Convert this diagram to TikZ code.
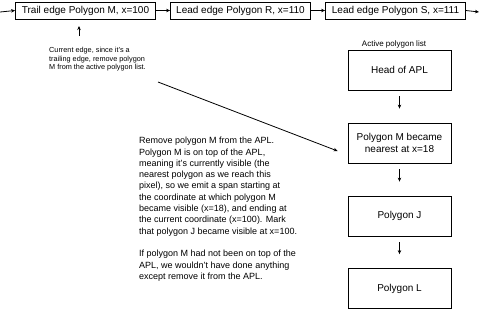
\documentclass[tikz,border=0pt]{standalone}
\usepackage{fontspec}
\setmainfont{Liberation Sans}
\usepackage{tikz}
\usetikzlibrary{positioning,arrows.meta}
\tikzset{
  edgebox/.style={draw, line width=0.8pt, font=\fontsize{10}{12}\selectfont,
                  minimum width=140pt, minimum height=17pt, inner sep=1pt},
  aplbox/.style={draw, line width=0.8pt, font=\fontsize{10}{12}\selectfont, align=center,
                 minimum width=103pt, minimum height=40pt},
  arr/.style={-{Stealth[length=4pt, width=3.5pt]}, line width=0.8pt},
  note/.style={align=left, anchor=north west, inner sep=0pt},
}

\begin{document}
\begin{tikzpicture}[x=1pt, y=-1pt]
  \useasboundingbox (0,0) rectangle (480,309);

  % edge list along the scan line
  \node[edgebox] (trail) at (85.5,10.5) {Trail edge Polygon M, x=100};
  \node[edgebox] (leadr) at (240.5,10.5) {Lead edge Polygon R, x=110};
  \node[edgebox] (leads) at (395.5,10.5) {Lead edge Polygon S, x=111};
  \coordinate (in) at (0,12);
  \coordinate (out) at (479,12);
  \draw[arr] (in) -- (trail.west);
  \draw[arr] (trail.east) -- (leadr.west);
  \draw[arr] (leadr.east) -- (leads.west);
  \draw[arr] (leads.east) -- (out);

  % current edge marker
  \coordinate (cur0) at (79,36);
  \coordinate (cur1) at (79,26);
  \draw[arr] (cur0) -- (cur1);
  \node[note, font=\fontsize{7.3}{8.7}\selectfont] (curtxt) at (49,47)
    {Current edge, since it's a\\trailing edge, remove polygon\\M from the active polygon list.};

  % active polygon list
  \node[font=\fontsize{8}{9}\selectfont] (apltitle) at (394,44) {Active polygon list};
  \node[aplbox] (head) at (399.5,70) {Head of APL};
  \node[aplbox] (polym) at (399.5,143) {Polygon M became\\nearest at x=18};
  \node[aplbox] (polyj) at (399.5,216) {Polygon J};
  \node[aplbox] (polyl) at (399.5,288.5) {Polygon L};
  \foreach \a/\b in {head/polym, polym/polyj, polyj/polyl}
    \draw[arr, shorten <=6pt, shorten >=14pt] (\a.south) -- (\b.north);

  % what happens to polygon M
  \coordinate (from) at (158,82);
  \draw[arr] (from) -- ([xshift=-10pt, yshift=-8pt]polym.west);
  \node[note, font=\fontsize{9}{11.3}\selectfont] (expl) at (139,137)
    {Remove polygon M from the APL.\\
     Polygon M is on top of the APL,\\
     meaning it's currently visible (the\\
     nearest polygon as we reach this\\
     pixel), so we emit a span starting at\\
     the coordinate at which polygon M\\
     became visible (x=18), and ending at\\
     the current coordinate (x=100). Mark\\
     that polygon J became visible at x=100.\\[11.3pt]
     If polygon M had not been on top of the\\
     APL, we wouldn't have done anything\\
     except remove it from the APL.};
\end{tikzpicture}
\end{document}
